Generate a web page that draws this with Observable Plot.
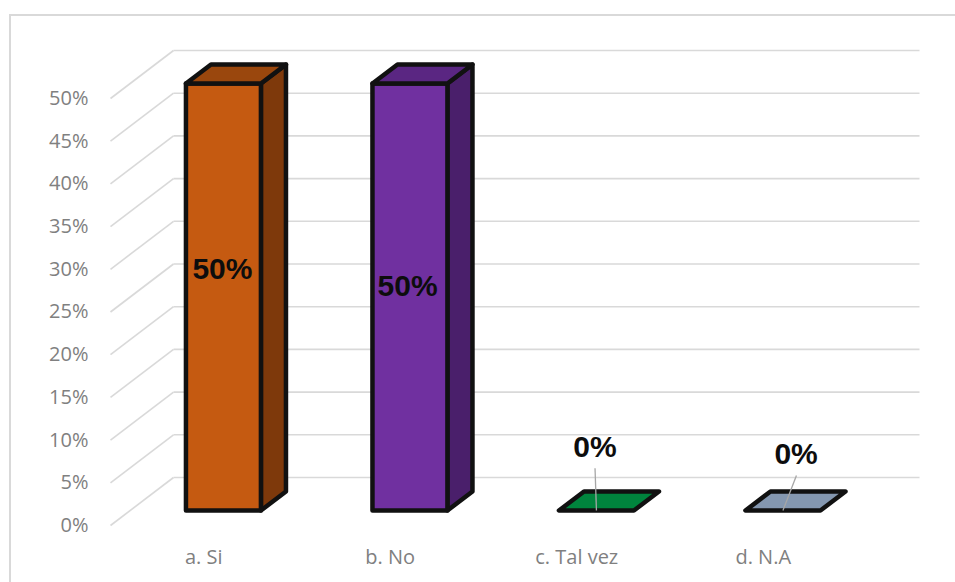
<!DOCTYPE html>
<html>
<head>
<meta charset="utf-8">
<script src="https://cdn.jsdelivr.net/npm/d3@7"></script>
<script src="https://cdn.jsdelivr.net/npm/@observablehq/plot@0.6"></script>
<style>
  html, body { margin: 0; padding: 0; background: #ffffff; }
  #wrap { position: relative; width: 955px; height: 582px; overflow: hidden; }
  #frame { position: absolute; left: 9px; top: 14px; width: 960px; height: 600px;
           border-left: 2px solid #d9d9d9; border-top: 2px solid #d9d9d9; box-sizing: border-box; }
  #chart { position: absolute; left: 0; top: 0; }
</style>
</head>
<body>
<div id="wrap"><div id="frame"></div><div id="chart"></div></div>
<script>
// ---- data ----
const categories = ["a. Si", "b. No", "c. Tal vez", "d. N.A"];
const values = [50, 50, 0, 0];
const valueLabels = ["50%", "50%", "0%", "0%"];
const yTicks = [0, 5, 10, 15, 20, 25, 30, 35, 40, 45, 50];

// ---- styles ----
const frontColors = ["#c55a11", "#7030a0", "#00843d", "#8497b0"];
const topColors   = ["#9a470d", "#5a2682", "#00843d", "#8497b0"];
const sideColors  = ["#7e390b", "#4a1f6b", "#006a31", "#6a7b92"];

// ---- 3D layout (depth expressed in data units) ----
const DX = 63 / 186.5;   // full depth, in category units
const DY = 48 / 8.54;    // full depth, in % units
const Z0 = 0.3125, Z1 = 0.71;  // bar front/back depth
const HALF = 0.201;            // half bar width (category units)
// label placement (category offset, % height); leader lines for outside labels
const labelLayout = [
  {dx: 0.100, y: 30.0, leader: null},
  {dx: 0.093, y: 28.0, leader: null},
  {dx: 0.098, y: 9.2,  leader: {dx: 0.098, y: 6.7}},
  {dx: 0.176, y: 8.3,  leader: {dx: 0.178, y: 5.85}}
];

const P = (i, u, v, z) => ({x: i + u + z * DX, y: v + z * DY});

const faces = [];
categories.forEach((c, i) => {
  const v = values[i];
  if (v > 0) {
    faces.push({fill: sideColors[i], pts: [P(i, HALF, 0, Z0), P(i, HALF, 0, Z1), P(i, HALF, v, Z1), P(i, HALF, v, Z0)]});
    faces.push({fill: frontColors[i], pts: [P(i, -HALF, 0, Z0), P(i, HALF, 0, Z0), P(i, HALF, v, Z0), P(i, -HALF, v, Z0)]});
  }
  faces.push({fill: topColors[i], pts: [P(i, -HALF, v, Z0), P(i, HALF, v, Z0), P(i, HALF, v, Z1), P(i, -HALF, v, Z1)]});
});

const labels = categories.map((c, i) => ({
  x: i + labelLayout[i].dx, y: labelLayout[i].y, text: valueLabels[i]
}));
const leaders = categories.map((c, i) => labelLayout[i].leader ? {
  x1: i + labelLayout[i].leader.dx, y1: labelLayout[i].leader.y,
  x2: i + Z0 * DX, y2: values[i] + Z0 * DY
} : null).filter(d => d);

const chart = Plot.plot({
  width: 955,
  height: 582,
  marginLeft: 110,
  marginRight: 99,
  marginTop: 98,
  marginBottom: 57,
  style: {fontFamily: "'Open Sans', sans-serif", fontSize: "20px", color: "#808080", background: "transparent"},
  x: {domain: [-0.5, 3.5], ticks: [0, 1, 2, 3], tickFormat: i => categories[i], tickSize: 0, tickPadding: 24, label: null},
  y: {domain: [0, 50], ticks: yTicks, tickFormat: d => d + "%", tickSize: 0, tickPadding: 22, label: null},
  marks: [
    // back-wall gridlines
    Plot.link(yTicks, {x1: -0.5 + DX, x2: 3.5 + DX, y1: t => t + DY, y2: t => t + DY, stroke: "#d9d9d9", strokeWidth: 1.6}),
    // side-wall diagonals
    Plot.link(yTicks, {x1: -0.5, y1: t => t, x2: -0.5 + DX, y2: t => t + DY, stroke: "#d9d9d9", strokeWidth: 1.6}),
    // bar faces
    ...faces.map(f => Plot.line(f.pts, {x: "x", y: "y", curve: "linear-closed", fill: f.fill, stroke: "#111111", strokeWidth: 4.5, strokeLinejoin: "round"})),
    // leader lines
    Plot.link(leaders, {x1: "x1", y1: "y1", x2: "x2", y2: "y2", stroke: "#a6a6a6", strokeWidth: 1.3}),
    // data labels
    Plot.text(labels, {x: "x", y: "y", text: "text", fill: "#0d0d0d", fontSize: 30, fontWeight: "bold", fontFamily: "'Liberation Sans', Arial, sans-serif"})
  ]
});
document.getElementById("chart").appendChild(chart);
</script>
</body>
</html>
